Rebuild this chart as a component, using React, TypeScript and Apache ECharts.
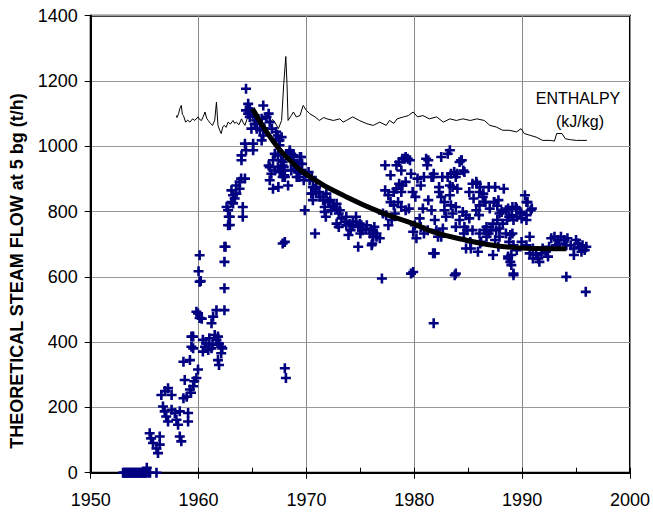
import React, { useEffect, useRef } from "react";
import * as echarts from "echarts";

// x axis (years) and y axis (t/h) ticks
const xTicks = [1950, 1960, 1970, 1980, 1990, 2000];
const yTicks = [0, 200, 400, 600, 800, 1000, 1200, 1400];

const yAxisTitle = "THEORETICAL STEAM FLOW at 5 bg (t/h)";
const enthalpyLabel = ["ENTHALPY", "(kJ/kg)"];

// Steam flow measurements [year, t/h]
const flowZeroPeriod: [number, number][] = [
  [1953.0, 0], [1953.1, 0], [1953.2, 0], [1953.3, 0], [1953.4, 0], [1953.5, 0], [1953.6, 0],
  [1953.7, 0], [1953.8, 0], [1953.9, 0], [1954.0, 0], [1954.1, 0], [1954.2, 0], [1954.3, 0],
  [1954.4, 0], [1954.5, 0], [1954.6, 0], [1954.7, 0], [1954.8, 0], [1954.9, 0], [1955.0, 0],
  [1955.1, 0], [1955.2, 15], [1955.3, 0], [1955.5, 0], [1956.1, 0],
];

const flowRise: [number, number][] = [
  [1955.47, 121], [1955.6, 105], [1955.78, 91], [1956.1, 74], [1956.24, 60], [1956.4, 111],
  [1956.4, 86], [1956.55, 238], [1956.9, 250], [1957.17, 259], [1956.7, 203], [1956.86, 188],
  [1957.0, 172], [1957.17, 157], [1957.5, 238], [1957.5, 193], [1957.8, 183], [1957.95, 162],
  [1958.1, 147], [1958.26, 111], [1958.4, 96], [1958.26, 188], [1958.72, 284], [1958.6, 228],
  [1958.9, 233], [1959.03, 183], [1959.03, 157], [1959.2, 255], [1959.3, 245], [1959.5, 265],
  [1959.6, 280], [1959.8, 290], [1959.95, 316], [1959.2, 345], [1958.6, 340], [1959.34, 386],
  [1959.5, 417], [1959.95, 488], [1960.1, 474], [1960.1, 585], [1960.1, 666], [1960.0, 617],
  [1960.2, 587], [1962.4, 692], [1962.4, 646], [1962.4, 565], [1962.4, 498], [1961.66, 498],
  [1961.35, 478], [1961.2, 458], [1959.8, 493], [1960.3, 472], [1959.34, 417], [1959.5, 381],
  [1960.4, 407], [1960.6, 386], [1960.7, 396], [1961.0, 412], [1961.2, 381], [1961.5, 422],
  [1961.66, 407], [1961.8, 417], [1961.9, 396], [1962.1, 386], [1962.2, 381], [1962.1, 366],
  [1961.8, 345], [1961.9, 330], [1960.4, 371], [1960.9, 376], [1961.3, 391],
];

const flowPeak: [number, number][] = [
  [1962.6, 814], [1962.8, 784], [1962.9, 759], [1964.1, 814], [1964.1, 784], [1963.2, 825],
  [1962.5, 692], [1962.74, 758], [1962.9, 784], [1962.74, 804], [1963.05, 829], [1963.35, 840],
  [1963.05, 865], [1963.2, 850], [1963.5, 855], [1963.5, 880], [1963.8, 891], [1963.95, 901],
  [1964.3, 901], [1963.8, 870], [1963.98, 957], [1963.98, 972], [1964.3, 1008], [1964.4, 988],
  [1965.06, 988], [1965.06, 1008], [1964.4, 1176], [1964.6, 1130], [1964.4, 1110], [1964.75, 1115],
  [1964.6, 1100], [1964.9, 1105], [1964.75, 1090], [1965.2, 1095], [1965.37, 1079], [1965.7, 1069],
  [1965.85, 1084], [1966.0, 1125], [1966.3, 1090], [1966.5, 1100], [1966.6, 1074], [1965.7, 1049],
  [1966.1, 1054], [1966.0, 1033], [1965.85, 1018], [1964.9, 1054], [1965.4, 1054], [1965.2, 1069],
  [1966.8, 1054], [1967.2, 1044], [1967.35, 1033], [1967.5, 1018], [1967.2, 1023], [1967.5, 1003],
  [1967.07, 977], [1966.6, 936], [1966.9, 957], [1967.35, 972], [1967.65, 957], [1966.5, 941],
  [1966.75, 916], [1966.6, 896], [1966.9, 870], [1967.07, 926], [1967.35, 936], [1967.8, 941],
  [1967.95, 926], [1967.8, 906], [1967.65, 921], [1968.3, 880], [1968.46, 988], [1968.6, 977],
  [1968.77, 957], [1969.1, 946], [1968.9, 931], [1969.2, 926], [1968.0, 707], [1968.0, 320],
  [1968.1, 290],
];

const flowDecline: [number, number][] = [
  [1967.53, 921], [1967.4, 875], [1967.9, 936], [1968.8, 972], [1969.4, 967], [1969.6, 946],
  [1968.9, 941], [1968.6, 926], [1969.25, 921], [1969.9, 916], [1970.2, 921], [1970.5, 906],
  [1969.75, 896], [1969.1, 906], [1968.0, 906], [1970.9, 875], [1971.2, 860], [1971.55, 845],
  [1971.85, 855], [1972.2, 835], [1972.5, 814], [1972.8, 824], [1973.1, 804], [1971.7, 799],
  [1969.85, 804], [1970.8, 733], [1973.7, 784], [1974.3, 769], [1974.6, 784], [1974.95, 763],
  [1975.6, 758], [1976.05, 743], [1973.7, 758], [1972.8, 763], [1970.8, 870], [1970.6, 855],
  [1967.7, 1028], [1968.46, 982], [1968.6, 967], [1967.8, 952], [1967.95, 911], [1969.5, 967],
  [1969.35, 946], [1969.35, 906], [1969.8, 916], [1970.3, 896], [1970.6, 875], [1970.45, 855],
  [1970.9, 860], [1971.25, 845], [1970.6, 835], [1971.55, 835], [1971.7, 814], [1972.0, 829],
  [1972.5, 818], [1972.3, 804], [1972.8, 809], [1973.0, 794], [1973.25, 779], [1973.55, 769],
  [1974.0, 763], [1974.3, 758], [1974.6, 769], [1974.8, 753], [1975.1, 758], [1975.2, 743],
  [1975.5, 748], [1975.9, 733], [1976.2, 738], [1976.5, 723], [1976.8, 718], [1976.05, 697],
  [1975.0, 733], [1974.1, 743], [1973.0, 753], [1973.9, 728], [1971.8, 784], [1967.8, 702],
  [1974.8, 692], [1977.0, 595],
];

const flowScatter1977to1986: [number, number][] = [
  [1976.2, 723], [1976.3, 753], [1976.5, 733], [1976.1, 702], [1977.3, 942], [1977.8, 911],
  [1978.35, 942], [1978.6, 952], [1978.9, 962], [1979.2, 967], [1979.4, 962], [1977.3, 865],
  [1977.6, 850], [1978.1, 860], [1978.35, 870], [1978.6, 885], [1978.9, 880], [1979.2, 891],
  [1978.8, 860], [1977.8, 829], [1978.1, 819], [1978.5, 829], [1978.8, 814], [1978.2, 794],
  [1977.4, 789], [1977.9, 774], [1977.6, 758], [1977.1, 794], [1979.2, 804], [1979.5, 809],
  [1979.7, 916], [1979.85, 860], [1980.1, 845], [1980.3, 901], [1980.6, 880], [1980.9, 906],
  [1981.3, 957], [1981.2, 942], [1981.6, 906], [1981.8, 916], [1981.3, 835], [1980.8, 809],
  [1980.5, 779], [1980.05, 758], [1980.6, 753], [1979.9, 738], [1980.2, 718], [1979.7, 610],
  [1980.9, 733], [1981.25, 743], [1981.6, 804], [1981.9, 774], [1982.05, 743], [1982.2, 723],
  [1981.9, 672], [1981.8, 458], [1982.5, 967], [1983.3, 988], [1983.1, 977], [1982.3, 860],
  [1982.5, 845], [1982.8, 829], [1983.1, 906], [1983.4, 916], [1983.7, 921], [1983.85, 906],
  [1984.2, 952], [1984.35, 957], [1984.65, 921], [1983.3, 880], [1983.55, 875], [1984.0, 870],
  [1983.3, 850], [1982.8, 804], [1983.4, 819], [1983.85, 814], [1982.95, 784], [1982.65, 748],
  [1982.5, 723], [1983.55, 794], [1984.5, 799], [1984.8, 789], [1984.2, 774], [1983.85, 753],
  [1984.65, 753], [1985.1, 779], [1985.75, 804], [1986.05, 819], [1986.5, 829], [1985.4, 885],
  [1985.75, 891], [1985.1, 860], [1986.05, 860], [1986.35, 845], [1984.8, 687], [1985.25, 687],
  [1985.9, 677], [1985.4, 743], [1986.05, 733], [1986.5, 743], [1983.85, 610],
  [1984.4, 957], [1984.55, 926], [1983.95, 916], [1981.75, 672], [1979.9, 615], [1983.75, 605],
  [1981.1, 962], [1982.6, 906], [1982.3, 875], [1981.75, 906], [1979.6, 957], [1978.8, 926],
  [1979.1, 962],
];

const flowScatter1985to1996: [number, number][] = [
  [1985.8, 885], [1986.1, 875], [1986.9, 875], [1987.5, 875], [1988.3, 870], [1986.4, 855],
  [1985.5, 840], [1986.6, 829], [1987.4, 829], [1987.7, 818], [1987.0, 809], [1986.0, 789],
  [1987.9, 794], [1988.5, 804], [1989.1, 814], [1989.5, 809], [1990.26, 850], [1990.4, 829],
  [1990.9, 809], [1989.9, 794], [1990.4, 789], [1989.2, 774], [1988.8, 784], [1988.2, 763],
  [1987.3, 763], [1986.7, 753], [1987.6, 743], [1986.9, 733], [1987.9, 723], [1988.5, 733],
  [1988.8, 707], [1989.1, 733], [1987.8, 692], [1988.7, 662], [1988.9, 646], [1989.2, 610],
  [1986.2, 707], [1985.2, 707], [1984.9, 743], [1984.6, 733],
  [1990.7, 723], [1989.95, 707], [1989.2, 697], [1988.7, 656], [1989.0, 636], [1989.2, 605],
  [1987.3, 667], [1990.7, 672], [1991.0, 687], [1991.3, 667], [1991.5, 656], [1991.8, 672],
  [1991.9, 687], [1992.2, 677], [1992.4, 662], [1992.5, 692], [1991.6, 646], [1991.0, 656],
  [1992.7, 718], [1993.0, 723], [1993.3, 713], [1993.6, 723], [1993.9, 713], [1994.1, 697],
  [1994.2, 718], [1993.4, 702], [1993.15, 697], [1994.5, 697], [1994.8, 687], [1995.0, 713],
  [1995.2, 702], [1995.3, 692], [1995.6, 697], [1995.8, 682], [1995.95, 692], [1994.8, 667],
  [1995.5, 677], [1994.1, 600], [1995.9, 554], [1990.5, 829], [1990.8, 804], [1989.8, 799],
  [1989.5, 784], [1989.95, 779], [1990.4, 774], [1989.4, 814], [1989.05, 789], [1988.7, 809],
  [1988.6, 774], [1988.1, 799], [1987.7, 774], [1987.8, 835], [1987.4, 829], [1987.1, 743],
  [1987.9, 748], [1988.9, 728], [1987.5, 713], [1986.7, 723], [1989.5, 682], [1990.4, 697],
  [1989.0, 667], [1986.1, 702],
];

// Enthalpy (kJ/kg) [year, value]
const enthalpy: [number, number][] = [
  [1957.95, 1094], [1958.0, 1088], [1958.15, 1100], [1958.26, 1115], [1958.4, 1125], [1958.5, 1098],
  [1958.6, 1094], [1958.8, 1074], [1959.0, 1080], [1959.2, 1074], [1959.45, 1084], [1959.65, 1079],
  [1959.95, 1090], [1960.1, 1082], [1960.27, 1079], [1960.45, 1092], [1960.6, 1105], [1960.75, 1086],
  [1960.9, 1079], [1961.1, 1070], [1961.3, 1064], [1961.5, 1080], [1961.66, 1135], [1961.8, 1064],
  [1961.95, 1050], [1962.1, 1039], [1962.25, 1060], [1962.4, 1064], [1962.55, 1058], [1962.74, 1074],
  [1962.95, 1068], [1963.2, 1079], [1963.35, 1070], [1963.5, 1074], [1963.75, 1066], [1963.98, 1084],
  [1964.15, 1072], [1964.3, 1064], [1964.6, 1094], [1964.9, 1079], [1965.2, 1094], [1965.45, 1080],
  [1965.7, 1074], [1966.1, 1094], [1966.35, 1078], [1966.6, 1069], [1966.85, 1082], [1967.07, 1074],
  [1967.4, 1054], [1967.7, 1079], [1967.9, 1192], [1968.09, 1275], [1968.2, 1192], [1968.3, 1079],
  [1968.6, 1094], [1968.8, 1105], [1969.05, 1090], [1969.4, 1094], [1969.7, 1125], [1970.0, 1110],
  [1970.3, 1100], [1970.8, 1090], [1971.2, 1079], [1971.6, 1088], [1971.9, 1084], [1972.5, 1079],
  [1973.1, 1084], [1973.4, 1074], [1973.7, 1079], [1974.3, 1090], [1974.9, 1079], [1975.6, 1069],
  [1976.2, 1064], [1976.8, 1074], [1977.4, 1064], [1977.7, 1079], [1978.1, 1070], [1978.4, 1084],
  [1979.0, 1090], [1979.45, 1094], [1979.9, 1105], [1980.3, 1090], [1980.8, 1094], [1981.4, 1084],
  [1982.07, 1090], [1982.7, 1074], [1983.3, 1084], [1983.9, 1079], [1984.5, 1084], [1985.2, 1079],
  [1985.8, 1084], [1986.5, 1079], [1987.0, 1064], [1987.6, 1059], [1988.2, 1049], [1988.8, 1049],
  [1989.5, 1044], [1989.9, 1054], [1990.2, 1039], [1990.7, 1034], [1991.3, 1028], [1991.9, 1018],
  [1992.6, 1018], [1993.0, 1016], [1993.2, 1039], [1993.7, 1039], [1994.0, 1023], [1994.5, 1020],
  [1995.05, 1018], [1996.0, 1018],
];

// Fitted decline curve [year, t/h]
const trend: [number, number][] = [
  [1965.0, 1115], [1966.5, 1035], [1968.15, 967], [1970.6, 901], [1973.7, 845], [1976.8, 799],
  [1979.9, 763], [1981.75, 738], [1984.85, 712], [1987.9, 694], [1991.0, 687], [1994.1, 686],
];

const PLUS = "path://M3.7,0H6.3V3.7H10V6.3H6.3V10H3.7V6.3H0V3.7H3.7Z";
const FONT = "Liberation Sans, Arial, sans-serif";

export default function App() {
  const ref = useRef<HTMLDivElement>(null);
  useEffect(() => {
    if (!ref.current) return;
    const chart = echarts.init(ref.current, undefined, { renderer: "svg" });
    const allFlow = [
      ...flowZeroPeriod,
      ...flowRise,
      ...flowPeak,
      ...flowDecline,
      ...flowScatter1977to1986,
      ...flowScatter1985to1996,
    ];
    chart.setOption({
      animation: false,
      backgroundColor: "#ffffff",
      grid: {
        left: 90.7,
        right: 22.5,
        top: 15.7,
        bottom: 42.3,
        show: true,
        borderColor: "#000",
        borderWidth: 2,
      },
      xAxis: [
        {
          type: "value",
          min: xTicks[0],
          max: xTicks[xTicks.length - 1],
          interval: 10,
          axisLine: { show: true, lineStyle: { color: "#000", width: 2 } },
          axisTick: { show: true, length: 6, lineStyle: { color: "#000", width: 1 } },
          axisLabel: {
            color: "#000",
            fontSize: 18,
            fontFamily: FONT,
            margin: 18,
            formatter: (v: number) => String(v),
          },
          splitLine: { show: true, lineStyle: { color: "#888", width: 1 } },
        },
        {
          type: "value",
          min: xTicks[0],
          max: xTicks[xTicks.length - 1],
          interval: 5,
          position: "bottom",
          axisLine: { show: false },
          axisTick: { show: true, inside: true, length: 5, lineStyle: { color: "#000", width: 1 } },
          axisLabel: { show: false },
          splitLine: { show: false },
        },
      ],
      yAxis: {
        type: "value",
        min: yTicks[0],
        max: yTicks[yTicks.length - 1],
        interval: 200,
        axisLine: { show: true, lineStyle: { color: "#000", width: 2 } },
        axisTick: { show: true, length: 6, lineStyle: { color: "#000", width: 1 } },
        axisLabel: {
          color: "#000",
          fontSize: 18,
          fontFamily: FONT,
          margin: 13,
          formatter: (v: number) => String(v),
        },
        splitLine: { show: true, lineStyle: { color: "#999", width: 1 } },
      },
      graphic: [
        {
          type: "text",
          x: 17,
          y: 271,
          rotation: Math.PI / 2,
          style: {
            text: yAxisTitle,
            fontSize: 18,
            fontWeight: "bold",
            fontFamily: FONT,
            fill: "#000",
            align: "center",
            verticalAlign: "middle",
          },
        },
        {
          type: "text",
          x: 578,
          y: 98,
          style: {
            text: enthalpyLabel[0],
            fontSize: 16,
            fontFamily: FONT,
            fill: "#000",
            align: "center",
            verticalAlign: "middle",
          },
        },
        {
          type: "text",
          x: 580,
          y: 121,
          style: {
            text: enthalpyLabel[1],
            fontSize: 16,
            fontFamily: FONT,
            fill: "#000",
            align: "center",
            verticalAlign: "middle",
          },
        },
      ],
      series: [
        {
          name: "Enthalpy",
          type: "line",
          data: enthalpy,
          showSymbol: false,
          symbol: "none",
          lineStyle: { color: "#000", width: 1 },
          z: 2,
        },
        {
          name: "Steam flow",
          type: "scatter",
          data: allFlow,
          symbol: PLUS,
          symbolSize: 10,
          itemStyle: { color: "#000080", opacity: 1 },
          z: 3,
        },
        {
          name: "Trend",
          type: "line",
          data: trend,
          smooth: true,
          showSymbol: false,
          symbol: "none",
          lineStyle: { color: "#000", width: 5 },
          z: 4,
        },
      ],
    });
    return () => chart.dispose();
  }, []);
  return (
    <div
      ref={ref}
      style={{ position: "fixed", left: 0, top: 0, width: 653, height: 515, background: "#fff" }}
    />
  );
}
